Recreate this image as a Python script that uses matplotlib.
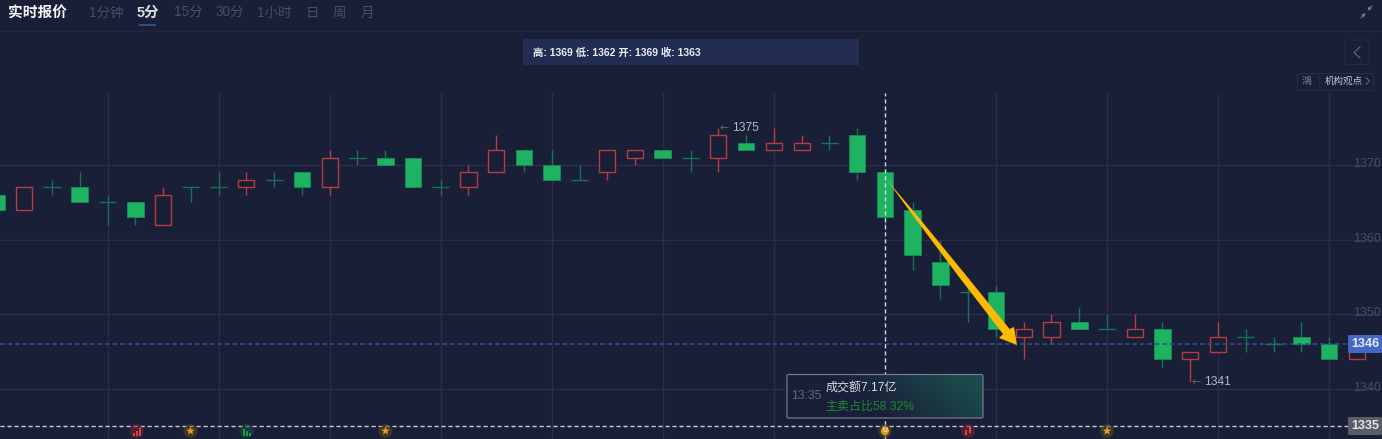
import numpy as np
import matplotlib
matplotlib.use("Agg")
import matplotlib.pyplot as plt
from matplotlib.colors import LinearSegmentedColormap
from matplotlib.patches import FancyBboxPatch, Polygon, Rectangle

plt.rcParams["font.family"] = ["Liberation Sans", "Noto Sans CJK SC", "DejaVu Sans"]

# 5 minute candles
opens = [1366, 1364, 1367, 1367, 1365, 1365, 1362, 1367, 1367, 1367, 1368, 1369, 1367, 1371, 1371, 1371, 1367,
         1367, 1369, 1372, 1370, 1368, 1369, 1371, 1372, 1371, 1371, 1373, 1372, 1372, 1373, 1374, 1369,
         1364, 1357, 1353, 1353, 1347, 1347, 1349, 1348, 1347, 1348, 1344, 1345, 1347, 1346, 1347, 1346, 1344]
closes = [1364, 1367, 1367, 1365, 1365, 1363, 1366, 1367, 1367, 1368, 1368, 1367, 1371, 1371, 1370, 1367, 1367,
          1369, 1372, 1370, 1368, 1368, 1372, 1372, 1371, 1371, 1374, 1372, 1373, 1373, 1373, 1369, 1363,
          1358, 1354, 1353, 1348, 1348, 1349, 1348, 1348, 1348, 1344, 1345, 1347, 1347, 1346, 1346, 1344, 1346]
highs = [1366, 1367, 1368, 1369, 1366, 1365, 1367, 1367, 1369, 1369, 1369, 1369, 1372, 1372, 1372, 1371, 1368,
         1370, 1374, 1372, 1372, 1370, 1372, 1372, 1372, 1372, 1375, 1374, 1375, 1374, 1374, 1375, 1369,
         1365, 1360, 1354, 1354, 1349, 1350, 1351, 1350, 1350, 1349, 1345, 1349, 1348, 1347, 1349, 1347, 1346]
lows = [1364, 1364, 1366, 1365, 1362, 1362, 1362, 1365, 1366, 1366, 1367, 1366, 1366, 1370, 1370, 1367, 1366,
        1366, 1369, 1369, 1368, 1368, 1368, 1370, 1371, 1369, 1369, 1372, 1372, 1372, 1372, 1368, 1362,
        1356, 1352, 1349, 1347, 1344, 1346, 1348, 1348, 1347, 1343, 1341, 1345, 1345, 1345, 1345, 1344, 1344]
price_ticks = [1370, 1360, 1350, 1340]
last_price = 1346
low_line = 1335
selected = 32
periods = ["1分钟", "5分", "15分", "30分", "1小时", "日", "周", "月"]
period_x = [106, 148, 188, 229.5, 274.5, 312, 339.5, 367]

BG = "#1a1f38"
GRID = "#2a2f45"
GREEN = "#1db361"
GREEN_EDGE = "#17865a"
GREEN_WICK = "#137353"
RED = "#b53c40"
AXIS_TEXT = "#484d62"
SOFT = "#b4b7c1"

fig = plt.figure(figsize=(1382 / 72, 439 / 72), dpi=72, facecolor=BG)
ax = fig.add_axes([0, 0, 1, 1], facecolor=BG)
ax.set_xlim(0.125, 49.907)
ax.set_ylim(1333.32, 1392.09)
ax.axis("off")

idx = np.arange(len(opens))
opens = np.array(opens)
closes = np.array(closes)
highs = np.array(highs)
lows = np.array(lows)

for p in price_ticks:
    ax.axhline(p, color=GRID, lw=1.3, zorder=1)
    ax.annotate(str(p), (1, p), xycoords=("axes fraction", "data"), xytext=(-1.5, 1), textcoords="offset points",
                ha="right", va="center", fontsize=12.5, color=AXIS_TEXT, zorder=2)
for i in range(4, 49, 4):
    if i != selected:
        ax.axvline(i, ymax=346 / 439, color=GRID, lw=1.3, zorder=1)

up = closes > opens
down = closes < opens
flat = closes == opens
wick_colors = [RED if u else GREEN_WICK for u in up]
ax.vlines(idx, lows, highs, colors=wick_colors, lw=1.4, zorder=3)
ax.bar(idx[down], (opens - closes)[down], bottom=closes[down], width=0.6, color=GREEN, edgecolor=GREEN_EDGE, lw=1, zorder=4)
ax.bar(idx[up], (closes - opens)[up], bottom=opens[up], width=0.58, color=BG, edgecolor=RED, lw=1.4, zorder=4)
ax.hlines(opens[flat], idx[flat] - 0.31, idx[flat] + 0.31, colors=GREEN_WICK, lw=1.4, zorder=4)

ax.axhline(last_price, color="#34508f", lw=1.5, ls=(0, (3, 2)), zorder=5)
ax.axhline(low_line, color="#c9cbd2", lw=1.4, ls=(0, (3, 2)), zorder=5)
ax.axvline(selected, ymax=346 / 439, color="#d5d7dc", lw=1.4, ls=(0, (3, 2)), zorder=5)

# extreme labels
for i, p in [(26, 1375), (43, 1341)]:
    ax.annotate("←", (i, p), xytext=(1, 0), textcoords="offset points", ha="left", va="center",
                fontsize=11, color="#5d6378", zorder=6, family=["DejaVu Sans"])
    ax.annotate(str(p), (i, p), xytext=(14, 0), textcoords="offset points", ha="left", va="center",
                fontsize=12, color=SOFT, zorder=6)

# everything below is page furniture, laid out in screen pixels
ui = fig.add_axes([0, 0, 1, 1], facecolor="none")
ui.axis("off")

ui.plot([0, 1382], [31, 31], color="#20263c", lw=1)
ui.text(8.5, 14, "实时报价", fontsize=14.7, fontweight="bold", color="#f2f3f5", va="center")
for name, x in zip(periods, period_x):
    active = name == "5分"
    ui.text(x, 13, name, fontsize=14.5 if active else 13.5, ha="center", va="center",
            color="#dcdde1" if active else "#494e61", fontweight="bold" if active else "normal")
ui.plot([140, 155], [24.5, 24.5], color="#3556a8", lw=1.6)

# compress icon
ui.annotate("", (1367.5, 10.5), (1372, 6), arrowprops=dict(arrowstyle="-|>", color="#777b88", lw=1, mutation_scale=6, shrinkA=0, shrinkB=0))
ui.annotate("", (1365.5, 13), (1361, 18), arrowprops=dict(arrowstyle="-|>", color="#777b88", lw=1, mutation_scale=6, shrinkA=0, shrinkB=0))

# info panel
ui.add_patch(Rectangle((523, 39), 336, 26, facecolor="#232c52", edgecolor="none"))
s = selected
ui.text(533, 52.5, f"高: {highs[s]} 低: {lows[s]} 开: {opens[s]} 收: {closes[s]}", fontsize=10.4, fontweight="bold",
        color="#eceef2", va="center")

# collapse button
ui.add_patch(FancyBboxPatch((1345, 40), 24.5, 24.5, boxstyle="round,pad=0,rounding_size=2", facecolor="none", edgecolor="#262c44", lw=1))
ui.plot([1360, 1354, 1360], [47, 52.5, 58], color="#6a6e7e", lw=1)

# 机构观点 tag
ui.add_patch(Rectangle((1297.5, 72.5), 76, 17, facecolor="none", edgecolor="#262c44", lw=1))
ui.text(1307, 81, "鴻", fontsize=10, color="#777b88", ha="center", va="center")
ui.plot([1319.5, 1319.5], [76, 86], color="#262c44", lw=1)
ui.text(1325, 81, "机构观点", fontsize=9.5, color="#c3c6d0", va="center")
ui.plot([1366, 1369.5, 1366], [77.5, 81, 84.5], color="#6a6e7e", lw=0.9)

# yellow arrow, tapered towards its tail
ui.add_patch(Polygon([(887, 180), (915, 213), (962.5, 271), (1009.5, 329), (1014, 327), (1017, 345), (999, 338), (1003, 334),
                      (957.5, 275), (913, 215.5)],
                     closed=True, facecolor="#ffb900", edgecolor="none", zorder=7))

# price tags
ui.add_patch(FancyBboxPatch((1348, 335), 34, 18, boxstyle="round,pad=0,rounding_size=1.5", facecolor="#4468c4", edgecolor="none", zorder=7))
ui.text(1365, 344, str(last_price), fontsize=12.5, fontweight="bold", color="#e8ebf3", ha="center", va="center", zorder=8)
ui.add_patch(FancyBboxPatch((1348, 417), 34, 18, boxstyle="round,pad=0,rounding_size=1.5", facecolor="#5a5c66", edgecolor="none", zorder=7))
ui.text(1365, 426, str(low_line), fontsize=12.5, fontweight="bold", color="#e2e3e6", ha="center", va="center", zorder=8)

# tooltip
grad_x, grad_y = np.meshgrid(np.linspace(0, 1, 200), np.linspace(1, 0, 50))
grad = np.clip((grad_x * 1.1 + grad_y * 0.3 - 0.55) / 0.7, 0, 1)
cmap = LinearSegmentedColormap.from_list("tip", [BG, "#1b4a4c"])
ui.imshow(grad, extent=(787, 983, 418, 374), aspect="auto", cmap=cmap, zorder=8, vmin=0, vmax=1)
ui.add_patch(FancyBboxPatch((787, 374.5), 196, 43.5, boxstyle="round,pad=0,rounding_size=1.5", facecolor="none", edgecolor="#777b8a", lw=1.2, zorder=9))
ui.text(791, 396, "13:35", fontsize=12.3, color="#62677a", va="center", zorder=9)
ui.text(825.5, 389, "成交额7.17亿", fontsize=12, color="#d9dbe0", va="center", zorder=9)
ui.text(825.5, 407, "主卖占比58.32%", fontsize=12, color="#1f8a33", va="center", zorder=9)

# event markers along the bottom
for x in [136.5, 190.5, 246.5, 385.5, 885, 968, 1107]:
    tint = {136.5: "#7a2530", 246.5: "#14533f", 968: "#7a2530"}.get(x, "#5a4a25")
    ui.scatter([x], [431], s=190, color=tint, alpha=0.55, edgecolors="none", zorder=3)
for x in [190.5, 385.5, 1107]:
    ui.scatter([x], [431], s=85, marker="*", color="#f0a318", edgecolors="none", zorder=4)
for off, h in [(-3.5, 3), (-0.5, 5), (2.5, 8)]:
    ui.add_patch(Rectangle((136.5 + off, 435.5 - h), 2, h, facecolor="#d9403f", edgecolor="none", zorder=4))
for off, h in [(-3.5, 7), (-0.5, 5), (2.5, 3)]:
    ui.add_patch(Rectangle((246.5 + off, 435.5 - h), 2, h, facecolor="#1f9a45", edgecolor="none", zorder=4))
ui.scatter([885], [431], s=70, color="#e09a1a", edgecolors="none", zorder=4)
ui.text(885, 431, "U", fontsize=7, fontweight="bold", color="#f7e6b0", ha="center", va="center", zorder=5)
ui.add_patch(Rectangle((965, 430), 2.5, 5, facecolor="#e8403f", edgecolor="none", zorder=4))
ui.add_patch(Rectangle((969, 427), 2.5, 6, facecolor="#e8403f", edgecolor="none", zorder=4))

ui.set_xlim(0, 1382)
ui.set_ylim(439, 0)

fig.savefig("out.png", dpi=72, facecolor=BG)
